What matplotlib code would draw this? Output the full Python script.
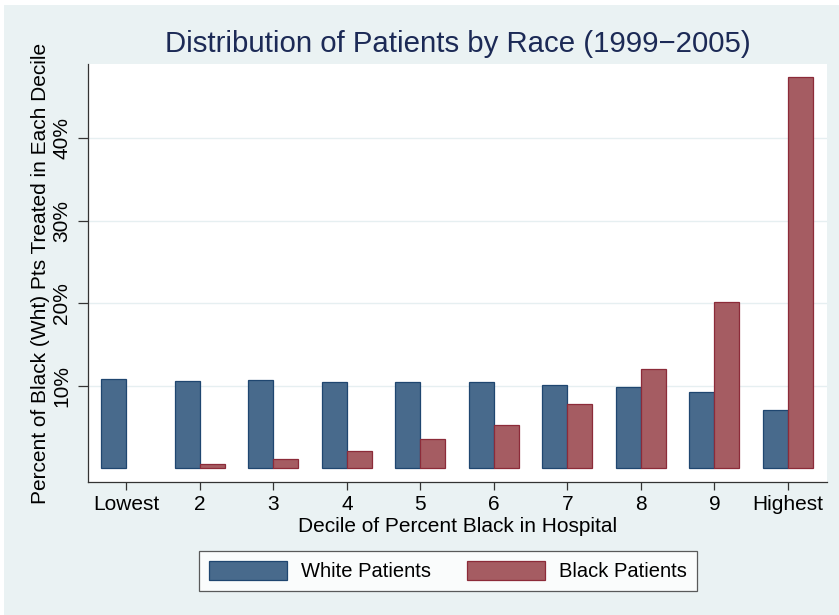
import matplotlib
matplotlib.use("Agg")
import matplotlib.pyplot as plt
from matplotlib.patches import Rectangle, Patch
import numpy as np

categories = ["Lowest", "2", "3", "4", "5", "6", "7", "8", "9", "Highest"]
white_pct = [10.8, 10.6, 10.7, 10.5, 10.4, 10.4, 10.1, 9.8, 9.2, 7.1]
black_pct = [0.0, 0.5, 1.1, 2.1, 3.5, 5.2, 7.8, 12.0, 20.1, 47.4]
yticks = [10, 20, 30, 40]
ytick_labels = ["10%", "20%", "30%", "40%"]

plt.rcParams['font.family'] = ['Liberation Sans', 'DejaVu Sans']

W, H = 839, 615
fig = plt.figure(figsize=(W / 100, H / 100), dpi=100, facecolor="white")
bg = "#EAF2F3"
fig.patches.append(Rectangle((4 / W, 0), (W - 4) / W, (H - 5) / H,
                             transform=fig.transFigure, facecolor=bg,
                             edgecolor="none", zorder=-10))

ax = fig.add_axes([88 / W, 1 - 482 / H, (827 - 88) / W, (482 - 64) / H])
ax.set_facecolor("white")

x = np.arange(len(categories))
bw = 0.34
blue_fill, blue_edge = "#486A8C", "#1F4670"
red_fill, red_edge = "#A55C62", "#8C2B39"
ax.bar(x - bw / 2, white_pct, bw, color=blue_fill, edgecolor=blue_edge,
       linewidth=0.9, label="White Patients", zorder=3)
red_edges = [red_edge if v > 0 else "none" for v in black_pct]
ax.bar(x + bw / 2, black_pct, bw, color=red_fill, edgecolor=red_edges,
       linewidth=0.9, label="Black Patients", zorder=3)

fs = 15
ax.set_xlim(-0.52, 9.53)
ax.set_ylim(-1.66, 48.95)
ax.set_xticks(x)
ax.set_xticklabels(categories, fontsize=fs)
ax.set_yticks(yticks)
ax.set_yticklabels(ytick_labels, fontsize=fs, rotation=90, va="center")
ax.grid(axis="y", color="#E6EFF1", linewidth=1.0, zorder=0)
ax.tick_params(axis="y", length=7, width=0.9, color="#333333", pad=5)
ax.tick_params(axis="x", length=5.5, width=0.9, color="#333333", pad=3.5)

for s in ["top", "right"]:
    ax.spines[s].set_visible(False)
for s in ["left", "bottom"]:
    ax.spines[s].set_color("#333333")
    ax.spines[s].set_linewidth(0.9)

ax.set_xlabel("Decile of Percent Black in Hospital", fontsize=fs, labelpad=2.5)
ax.set_ylabel("Percent of Black (Wht) Pts Treated in Each Decile", fontsize=fs,
              labelpad=2)
ax.set_title("Distribution of Patients by Race (1999\u22122005)", fontsize=21.2,
             color="#1C2A56", pad=9)

handles = [Patch(facecolor=blue_fill, edgecolor=blue_edge, linewidth=0.9),
           Patch(facecolor=red_fill, edgecolor=red_edge, linewidth=0.9)]
leg = fig.legend(handles, ["White Patients", "Black Patients"], ncol=2,
                 loc="center", bbox_to_anchor=(448 / W, 1 - 571 / H),
                 fontsize=14.5, frameon=True, fancybox=False,
                 handlelength=3.9, handleheight=1.1, handletextpad=0.7,
                 columnspacing=1.75, borderpad=0.5, borderaxespad=0)
leg.get_frame().set_edgecolor("#333333")
leg.get_frame().set_linewidth(0.9)
leg.get_frame().set_facecolor("white")

fig.savefig("out.png", dpi=100, facecolor="white")
